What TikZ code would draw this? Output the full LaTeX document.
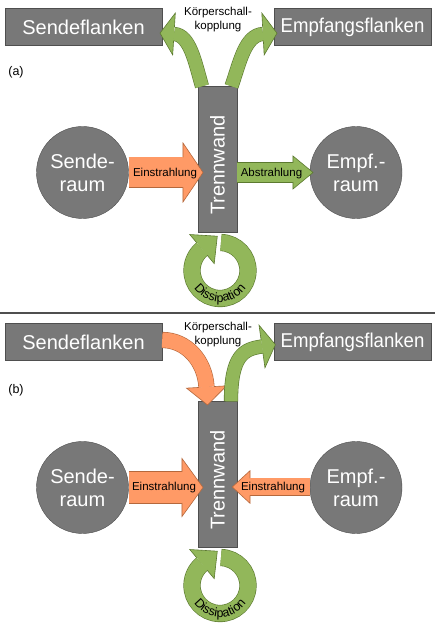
\documentclass[tikz,border=0pt]{standalone}
\usepackage{fontspec}
\setmainfont{Liberation Sans}
\usetikzlibrary{calc,decorations.markings,decorations.text}

\definecolor{boxgray}{HTML}{787878}
\definecolor{boxline}{HTML}{4F4F4F}
\definecolor{grnfill}{HTML}{92B75A}
\definecolor{grnline}{HTML}{5C7A30}
\definecolor{orgfill}{HTML}{FF9A66}
\definecolor{orgline}{HTML}{B5683C}

\newcommand\dissfont{\fontsize{12.5}{14}\selectfont}
% block arrow: colour, shaft width, head half width, head length, path
\newcommand\flowarrow[5]{%
  \draw[line width=#2+1.2pt, draw=#1line,
    decoration={markings, mark=at position 0.9999 with {%
      \filldraw[line width=.6pt, draw=#1line, fill=#1fill]
        (0pt,#2/2) -- (0pt,#3) -- (#4,0pt) -- (0pt,-#3) -- (0pt,-#2/2);}},
    postaction=decorate] #5;
  \draw[line width=#2, draw=#1fill] #5;
}

\begin{document}
\begin{tikzpicture}[x=1pt, y=1pt,
    box/.style = {draw=boxline, fill=boxgray, text=white, minimum width=157pt, minimum height=37pt, inner sep=0pt, font=\fontsize{20}{23}\selectfont},
    room/.style = {draw=boxline, fill=boxgray, circle, text=white, minimum size=92pt, inner sep=0pt, align=center, font=\fontsize{20}{23}\selectfont},
    wall/.style = {draw=boxline, fill=boxgray, minimum width=39pt, minimum height=146pt, inner sep=0pt},
    walltext/.style = {rotate=90, text=white, inner sep=0pt, font=\fontsize{20}{23}\selectfont},
    small/.style = {inner sep=0pt, font=\fontsize{11.5}{14}\selectfont},
    tag/.style = {inner sep=0pt, font=\fontsize{12.5}{15}\selectfont}]

    \path[use as bounding box, fill=white] (0,0) rectangle (435,630);

    % (a)
    \node[box] (sfa) at (83.5,603) {Sendeflanken};
    \node[box] (efa) at (352.5,603) {\scalebox{.93}[1]{Empfangsflanken}};
    \node[small, align=center] (kpa) at (218,610) {Körperschall-\\kopplung};
    \node[tag] (taga) at (16,558) {(a)};
    \node[room] (sra) at (82.5,457.5) {Sende-\\raum};
    \node[room] (era) at (356,457.5) {Empf.-\\raum};
    \node[wall] (wa) at (217.5,470.5) {};
    \node[walltext] (wta) at (217.5,465) {Trennwand};

    \coordinate (ea) at (183,457.5);
    \coordinate (aa) at (293,457.5);
    \coordinate (kla) at (174,596);
    \coordinate (kra) at (263,596);
    \coordinate (ria) at (220,359.5);

    \flowarrow{org}{30pt}{29.5pt}{20pt}{(sra.east) -- (ea)}
    \flowarrow{grn}{19pt}{16.5pt}{20pt}{(wa.east |- aa) -- (aa)}
    \flowarrow{grn}{13pt}{21pt}{14pt}{($(wa.north)+(-15.5,0)$) .. controls (195,568) and (190,595) .. (kla)}
    \flowarrow{grn}{13pt}{21pt}{14pt}{($(wa.north)+(14,0)$) .. controls (240,568) and (245,595) .. (kra)}
    \flowarrow{grn}{16pt}{19pt}{20pt}{($(ria)+(88:28pt)$) arc[start angle=88, end angle=-230, radius=28pt]}

    \node[small] (eta) at (165,456.5) {Einstrahlung};
    \node[small] (ata) at (271.5,456) {Abstrahlung};
    \path[decorate, decoration={text along path, text align=center, text={|\dissfont|Dissipation}}]
        ($(ria)+(195:31.5pt)$) arc[start angle=195, end angle=345, radius=31.5pt];

    \draw[line width=1.5pt, boxline] (0,317) -- (435,317);

    % (b)
    \node[box] (sfb) at (83.5,288) {Sendeflanken};
    \node[box] (efb) at (352.5,288) {\scalebox{.93}[1]{Empfangsflanken}};
    \node[small, align=center] (kpb) at (218,295) {Körperschall-\\kopplung};
    \node[tag] (tagb) at (16,240) {(b)};
    \node[room] (srb) at (82.5,142.5) {Sende-\\raum};
    \node[room] (erb) at (356,142.5) {Empf.-\\raum};
    \node[wall] (wb) at (217.5,155.5) {};
    \node[walltext] (wtb) at (217.5,150) {Trennwand};

    \coordinate (eb) at (182,142.5);
    \coordinate (ebr) at (250,143);
    \coordinate (okb) at (206.5,243);
    \coordinate (gkb) at (262,283.5);
    \coordinate (rib) at (220,44.5);

    \flowarrow{org}{31pt}{29pt}{21pt}{(srb.east) -- (eb)}
    \flowarrow{org}{17pt}{16.3pt}{17.7pt}{(erb.west |- ebr) -- (ebr)}
    \flowarrow{org}{15pt}{20pt}{18pt}{($(sfb.east)+(0,2)$) .. controls (186.6,290) and (205,269) .. (okb)}
    \flowarrow{grn}{13pt}{21.5pt}{13.5pt}{($(wb.north)+(13.5,0)$) .. controls (231,275) and (244,281) .. (gkb)}
    \flowarrow{grn}{16pt}{19pt}{20pt}{($(rib)+(88:28pt)$) arc[start angle=88, end angle=-230, radius=28pt]}

    \node[small] (etb) at (164,142.5) {Einstrahlung};
    \node[small] (etbr) at (273,142) {Einstrahlung};
    \path[decorate, decoration={text along path, text align=center, text={|\dissfont|Dissipation}}]
        ($(rib)+(195:31.5pt)$) arc[start angle=195, end angle=345, radius=31.5pt];
\end{tikzpicture}
\end{document}
